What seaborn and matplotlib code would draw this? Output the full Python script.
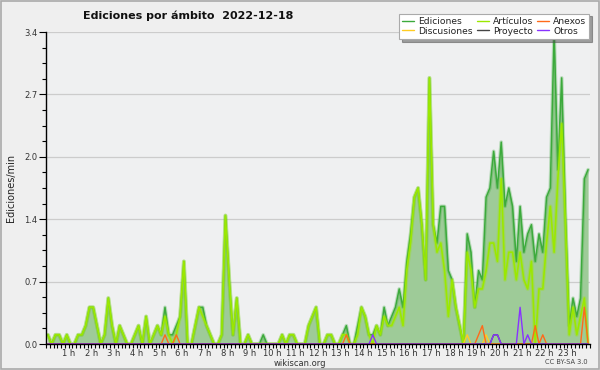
import numpy as np
import pandas as pd
import matplotlib
matplotlib.use("Agg")
import matplotlib.pyplot as plt
from matplotlib.patches import Rectangle
from matplotlib.lines import Line2D
import seaborn as sns

# ---------------- data (10-minute bins, edits per minute) ----------------
minutes = [i * 10 + 5 for i in range(144)]

ediciones = [
    0.1, 0, 0.1, 0.1, 0, 0.1, 0, 0, 0.1, 0.1,
    0.2, 0.4, 0.4, 0.2, 0, 0.1, 0.5, 0.2, 0, 0.2,
    0.1, 0, 0, 0.1, 0.2, 0, 0.3, 0, 0.1, 0.2,
    0.1, 0.4, 0.1, 0.1, 0.2, 0.3, 0.9, 0, 0, 0.2,
    0.4, 0.4, 0.2, 0.1, 0, 0, 0.1, 1.4, 0.7, 0.1,
    0.5, 0, 0, 0.1, 0, 0, 0, 0.1, 0, 0,
    0, 0, 0.1, 0, 0.1, 0.1, 0, 0, 0, 0.2,
    0.3, 0.4, 0, 0, 0.1, 0.1, 0, 0, 0.1, 0.2,
    0, 0, 0.2, 0.4, 0.3, 0.1, 0.1, 0.2, 0.1, 0.4,
    0.2, 0.3, 0.4, 0.6, 0.4, 0.9, 1.2, 1.6, 1.7, 1.3,
    0.7, 2.9, 1.3, 1.1, 1.5, 1.5, 0.8, 0.7, 0.4, 0.2,
    0, 1.2, 1.0, 0.4, 0.8, 0.7, 1.6, 1.7, 2.1, 1.7,
    2.2, 1.5, 1.7, 1.5, 0.9, 1.5, 1.0, 1.2, 1.3, 0.9,
    1.2, 1.0, 1.6, 1.7, 3.4, 1.9, 2.9, 1.4, 0.2, 0.5,
    0.3, 0.5, 1.8, 1.9,
]
articulos = [
    0.1, 0, 0.1, 0.1, 0, 0.1, 0, 0, 0.1, 0.1,
    0.2, 0.4, 0.4, 0.2, 0, 0.1, 0.5, 0.2, 0, 0.2,
    0.1, 0, 0, 0.1, 0.2, 0, 0.3, 0, 0.1, 0.2,
    0.1, 0.3, 0.1, 0, 0.1, 0.3, 0.9, 0, 0, 0.2,
    0.4, 0.3, 0.2, 0.1, 0, 0, 0.1, 1.4, 0.7, 0.1,
    0.5, 0, 0, 0.1, 0, 0, 0, 0, 0, 0,
    0, 0, 0.1, 0, 0.1, 0.1, 0, 0, 0, 0.2,
    0.3, 0.4, 0, 0, 0.1, 0.1, 0, 0, 0.1, 0.1,
    0, 0, 0.1, 0.4, 0.3, 0.1, 0, 0.2, 0.1, 0.3,
    0.2, 0.2, 0.3, 0.4, 0.2, 0.8, 1.1, 1.6, 1.7, 1.3,
    0.7, 2.9, 1.3, 1.0, 1.1, 0.8, 0.3, 0.7, 0.4, 0.2,
    0, 1.0, 0.8, 0.4, 0.6, 0.6, 0.8, 1.1, 1.1, 0.9,
    1.8, 0.7, 1.0, 1.0, 0.7, 1.0, 0.7, 0.6, 0.9, 0,
    0.6, 0.6, 1.1, 1.5, 1.0, 1.8, 2.4, 1.3, 0.1, 0.4,
    0.1, 0.3, 0.5, 0,
]
anexos = [0.0] * 144
for i, v in [(31, 0.1), (34, 0.1), (79, 0.1), (114, 0.1), (115, 0.2),
             (129, 0.2), (131, 0.1), (142, 0.4)]:
    anexos[i] = v
discusiones = [0.0] * 144
for i, v in [(111, 0.1), (116, 0.1)]:
    discusiones[i] = v
proyecto = [0.0] * 144
for i, v in [(118, 0.1), (119, 0.1)]:
    proyecto[i] = v
otros = [0.0] * 144
for i, v in [(86, 0.1), (118, 0.1), (119, 0.1), (125, 0.4), (127, 0.1)]:
    otros[i] = v

hour_labels = [f"{h} h" for h in range(1, 24)]
y_max = 3.4
title = "Ediciones por ámbito  2022-12-18"
series_names = ["Ediciones", "Discusiones", "Artículos", "Proyecto", "Anexos", "Otros"]

# ---------------- style ----------------
sns.set_theme(style="white")
plt.rcParams['font.family'] = ['DejaVu Sans']

BG = "#efefef"
C_FILL = "#9ecb98"
C_ED = "#3caa3c"
C_ART = "#9be800"
C_ANX = "#ff6a1a"
C_DIS = "#ffcc22"
C_PRO = "#444444"
C_OTR = "#8833ff"

fig = plt.figure(figsize=(6, 3.7), dpi=100, facecolor=BG)
ax = fig.add_axes([46 / 600, 26 / 370, 544 / 600, 312 / 370])
ax.set_facecolor("#eff0f1")

x = np.array(minutes)
ax.fill_between(x, ediciones, 0, color=C_FILL, lw=0, zorder=1)

def glow_line(y, color, lw, zo, glow=True):
    if glow:
        sns.lineplot(x=x, y=y, ax=ax, color=color, lw=lw * 2.4, alpha=0.3,
                     zorder=zo, legend=False, estimator=None)
    sns.lineplot(x=x, y=y, ax=ax, color=color, lw=lw, zorder=zo + 0.1,
                 legend=False, estimator=None)

glow_line(ediciones, C_ED, 1.1, 3)
glow_line(articulos, C_ART, 1.2, 4)
for ser, col in [(discusiones, C_DIS), (proyecto, C_PRO), (anexos, C_ANX), (otros, C_OTR)]:
    glow_line(ser, col, 1.0, 5, glow=False)

ax.set_xlim(0, 1440)
ax.set_ylim(0, y_max)

# ticks
ax.set_xticks([h * 60 for h in range(1, 24)])
ax.set_xticklabels(hour_labels)
ax.set_xticks(np.arange(0, 1441, 10), minor=True)
yt = np.linspace(0, y_max, 6)
ax.set_yticks(yt)
ax.set_yticklabels([f"{v:.1f}" for v in yt])
ax.set_yticks(np.linspace(0, y_max, 21), minor=True)
ax.tick_params(axis="x", which="both", direction="out", length=3, width=0.8,
               color="black", labelsize=6, pad=0.5, labelcolor="#333333", bottom=True)
ax.tick_params(axis="y", which="major", direction="out", length=5, width=0.8,
               color="black", labelsize=6, pad=1, labelcolor="#333333", left=True)
ax.tick_params(axis="y", which="minor", direction="out", length=3, width=0.8,
               color="black", left=True)

ax.grid(axis="y", which="major", color="#cccccc", lw=0.9, zorder=0)
ax.set_axisbelow(True)
for s in ["top", "right"]:
    ax.spines[s].set_visible(False)
for s in ["left", "bottom"]:
    ax.spines[s].set_color("black")
    ax.spines[s].set_linewidth(1.0)
    ax.spines[s].set_zorder(10)
ax.set_xlabel("")
ax.set_ylabel("")

# texts
fig.text(188 / 600, 1 - 16 / 370, title, ha="center", va="center",
         fontsize=8, fontweight="bold", color="#111111")
fig.text(11 / 600, 1 - 188 / 370, "Ediciones/min", rotation=90, ha="center",
         va="center", fontsize=7, color="#222222")
fig.text(300 / 600, 1 - 363 / 370, "wikiscan.org", ha="center", va="center",
         fontsize=6, color="#333333")
fig.text(566 / 600, 1 - 362.5 / 370, "CC BY-SA 3.0", ha="center", va="center",
         fontsize=4.8, color="#444444")

# legend
colors = {"Ediciones": C_ED, "Discusiones": C_DIS, "Artículos": C_ART,
          "Proyecto": C_PRO, "Anexos": C_ANX, "Otros": C_OTR}
handles = [Line2D([], [], color=colors[n], lw=1.0) for n in series_names]
leg = fig.legend(handles, series_names, loc="upper right",
                 bbox_to_anchor=(594 / 600, 1 - 9 / 370), bbox_transform=fig.transFigure,
                 ncol=3, fontsize=6.6, handlelength=1.3, handletextpad=0.4,
                 columnspacing=0.5, labelspacing=0.1, borderpad=0.35,
                 frameon=True, fancybox=False, shadow=True, edgecolor="#aaaaaa")
leg.get_frame().set_facecolor("white")
leg.get_frame().set_linewidth(0.8)
for t in leg.get_texts():
    t.set_color("#222222")

# outer frame
fig.patches.append(Rectangle((0.001, 0.002), 0.997, 0.996, transform=fig.transFigure,
                             fill=False, edgecolor="#aaaaaa", lw=1.2))

fig.savefig("out.png", dpi=100, facecolor=BG)
